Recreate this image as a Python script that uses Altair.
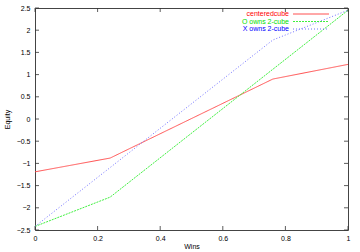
import altair as alt
import pandas as pd

# data
red_x = [0, 0.24, 0.76, 1]
red_y = [-1.19, -0.88, 0.90, 1.23]
green_x = [0, 0.24, 1]
green_y = [-2.42, -1.76, 2.45]
blue_x = [0, 0.76, 1]
blue_y = [-2.42, 1.78, 2.45]
series_names = ["centeredcube", "O owns 2-cube", "X owns 2-cube"]
series_colors = ["#ff5050", "#40f040", "#7070ff"]
text_colors = ["#ff0000", "#00e000", "#0000ff"]
x_ticks = [0, 0.2, 0.4, 0.6, 0.8, 1]
y_ticks = [-2.5, -2, -1.5, -1, -0.5, 0, 0.5, 1, 1.5, 2, 2.5]

W, H = 313, 222
FONT = "Liberation Sans"

rows = []
for name, xs, ys in zip(series_names, [red_x, green_x, blue_x], [red_y, green_y, blue_y]):
    for i, (a, b) in enumerate(zip(xs, ys)):
        rows.append({"series": name, "wins": a, "equity": b, "order": i})
df = pd.DataFrame(rows)

xs = alt.Scale(domain=[0, 1], nice=False, zero=False)
ys = alt.Scale(domain=[-2.5, 2.5], nice=False, zero=False)
cscale = alt.Scale(domain=series_names, range=series_colors)

dashes = {"centeredcube": [1, 0], "O owns 2-cube": [2, 1], "X owns 2-cube": [1, 2]}

x_axis = alt.Axis(values=x_ticks, title="Wins", labelFont=FONT, titleFont=FONT,
                  format=".3~g", labelOverlap=False, labelFlush=False,
                  labelFontSize=7, titleFontSize=7, titleFontWeight="normal",
                  tickSize=0, domain=False, grid=False, labelPadding=4,
                  titlePadding=1, labelColor="black", titleColor="black")
y_axis = alt.Axis(values=y_ticks, title="Equity", labelFont=FONT, titleFont=FONT,
                  format=".3~g", labelOverlap=False, labelFlush=False,
                  labelFontSize=7, titleFontSize=7, titleFontWeight="normal",
                  tickSize=0, domain=False, grid=False, labelPadding=5,
                  titlePadding=6, labelColor="black", titleColor="black")

layers = []
for k, name in enumerate(series_names):
    layers.append(
        alt.Chart(df[df.series == name]).mark_line(strokeWidth=1, strokeDash=dashes[name]).encode(
            x=alt.X("wins:Q", scale=xs, axis=x_axis),
            y=alt.Y("equity:Q", scale=ys, axis=y_axis),
            color=alt.Color("series:N", scale=cscale, legend=None),
            order="order:Q",
        )
    )

# inward ticks
xt = pd.DataFrame({"t": x_ticks})
yt = pd.DataFrame({"t": y_ticks})
tick_color = "#333333"
ticks = [
    alt.Chart(xt).mark_rule(color=tick_color, strokeWidth=0.8).encode(x=alt.X("t:Q", scale=xs, axis=x_axis), y=alt.value(H), y2=alt.value(H - 4)),
    alt.Chart(xt).mark_rule(color=tick_color, strokeWidth=0.8).encode(x=alt.X("t:Q", scale=xs, axis=x_axis), y=alt.value(0), y2=alt.value(4)),
    alt.Chart(yt).mark_rule(color=tick_color, strokeWidth=0.8).encode(y=alt.Y("t:Q", scale=ys, axis=y_axis), x=alt.value(0), x2=alt.value(4)),
    alt.Chart(yt).mark_rule(color=tick_color, strokeWidth=0.8).encode(y=alt.Y("t:Q", scale=ys, axis=y_axis), x=alt.value(W), x2=alt.value(W - 4)),
]

# legend
leg = pd.DataFrame({"series": series_names})
leg_rows_y = [6, 13.5, 21]
leg_layers = []
for i, name in enumerate(series_names):
    sub = leg[leg.series == name]
    leg_layers.append(
        alt.Chart(sub).mark_text(align="right", baseline="middle", font=FONT, fontSize=7,
                                 color=text_colors[i]).encode(
            x=alt.value(254), y=alt.value(leg_rows_y[i]),
            text="series:N",
        )
    )
    leg_layers.append(
        alt.Chart(sub).mark_rule(strokeWidth=1, strokeDash=dashes[name]).encode(
            x=alt.value(258), x2=alt.value(294), y=alt.value(leg_rows_y[i]),
            color=alt.Color("series:N", scale=cscale, legend=None),
        )
    )

chart = alt.layer(*layers, *ticks, *leg_layers).properties(
    width=W, height=H,
    autosize=alt.AutoSizeParams(type="none"),
    padding={"left": 35, "top": 8, "right": 12, "bottom": 22},
    background="white",
).configure_view(stroke="#444444", strokeWidth=1)

chart.save("out.html", embed_options={"renderer": "svg", "actions": False})
